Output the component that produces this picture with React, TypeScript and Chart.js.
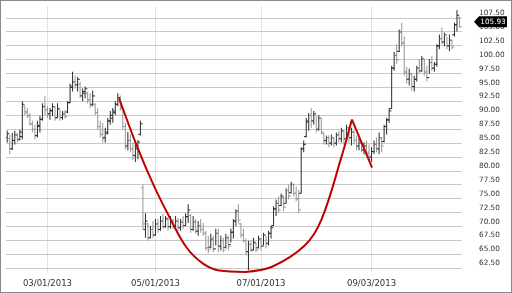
import React, { useEffect, useRef } from 'react';
import { Chart, registerables } from 'chart.js';
Chart.register(...registerables);

// Bar index 0 = first trading day shown (early Feb 2013)
const xTickIdx = [16, 59, 101, 145];
const xTickLabels = ['03/01/2013', '05/01/2013', '07/01/2013', '09/03/2013'];
const yTickValues = [62.5, 65, 67.5, 70, 72.5, 75, 77.5, 80, 82.5, 85, 87.5, 90, 92.5, 95, 97.5, 100, 102.5, 105, 107.5];

const highs = [
  87.26, 86.5, 86.9, 87.26, 86.9, 87.44, 92.55, 91.8, 91.32, 90.44,
  89.02, 88.32, 89.02, 89.91, 92.2, 93.44, 91.67, 91.32, 92.2, 91.67,
  92.2, 90.97, 90.79, 90.97, 92.55, 95.73, 97.85, 97.14, 96.9, 96.08,
  94.85, 95.2, 94.32, 93.97, 94.49, 92.2, 91.32, 89.02, 88.67, 87.79,
  89.55, 90.79, 91.32, 92.55, 93.97, 93.6, 91.32, 88.67, 87.0, 86.55,
  85.14, 85.5, 85.6, 89.02, 77.55, 72.43, 70.67, 70.14, 71.02, 71.37,
  71.37, 71.9, 72.26, 71.9, 71.55, 71.9, 71.37, 71.9, 71.55, 71.37,
  71.9, 72.43, 74.02, 72.26, 71.9, 71.37, 71.02, 71.37, 70.67, 69.26,
  68.38, 68.73, 68.38, 69.61, 69.61, 68.38, 68.02, 68.73, 68.38, 69.61,
  71.37, 73.14, 74.02, 70.67, 69.61, 67.85, 67.49, 67.49, 68.02, 67.14,
  68.38, 68.02, 68.9, 68.38, 69.26, 70.14, 73.67, 74.9, 75.43, 75.96,
  75.43, 76.9, 77.55, 78.08, 77.7, 77.2, 76.6, 84.26, 85.5, 89.55,
  90.44, 91.32, 90.79, 89.91, 90.08, 89.55, 86.91, 86.38, 86.38, 86.55,
  86.03, 86.91, 87.26, 87.79, 87.26, 88.32, 87.79, 87.79, 87.26, 86.38,
  86.03, 85.5, 85.14, 85.5, 84.79, 84.26, 85.5, 86.03, 86.91, 86.03,
  88.32, 89.55, 91.32, 98.91, 101.38, 102.79, 105.44, 106.67, 104.2, 98.73,
  98.38, 97.49, 97.14, 98.91, 100.14, 100.67, 100.14, 98.91, 100.14, 100.67,
  99.61, 102.79, 104.55, 105.79, 104.91, 104.2, 104.55, 103.67, 106.67, 108.96,
  107.73,
];

const lows = [
  85.14, 83.0, 83.8, 84.79, 85.14, 85.5, 85.67, 90.08, 89.55, 88.14,
  86.91, 85.67, 86.03, 86.91, 89.02, 90.08, 89.55, 89.2, 89.91, 89.02,
  89.55, 89.02, 89.2, 89.38, 90.44, 92.2, 94.32, 94.85, 94.32, 93.08,
  92.55, 93.08, 92.2, 91.32, 91.67, 90.08, 87.44, 86.03, 85.14, 85.14,
  86.55, 88.32, 88.67, 90.08, 91.67, 90.79, 87.44, 83.91, 83.73, 83.38,
  81.97, 81.61, 82.14, 86.38, 69.5, 68.02, 67.49, 67.85, 68.02, 68.38,
  68.9, 69.26, 69.61, 69.79, 69.26, 69.61, 69.61, 69.79, 69.26, 69.26,
  69.61, 70.14, 70.67, 68.9, 69.26, 68.73, 68.38, 68.9, 68.38, 65.73,
  65.2, 66.08, 65.38, 66.61, 65.38, 65.73, 65.38, 66.08, 65.73, 67.14,
  67.85, 70.14, 70.67, 68.02, 67.14, 64.85, 62.2, 65.38, 65.73, 65.38,
  66.08, 65.73, 66.61, 66.08, 66.61, 67.85, 70.14, 71.9, 72.43, 73.67,
  72.79, 74.2, 74.9, 75.96, 75.43, 74.55, 72.43, 75.96, 83.38, 86.03,
  87.26, 87.79, 88.32, 86.91, 87.26, 86.55, 84.79, 84.79, 84.26, 84.61,
  84.26, 84.61, 85.14, 85.14, 84.79, 85.5, 85.14, 84.61, 84.79, 83.73,
  83.73, 83.38, 83.02, 82.85, 81.97, 81.61, 83.02, 83.38, 83.02, 83.38,
  85.14, 86.55, 88.67, 91.14, 98.02, 99.26, 101.38, 102.44, 97.14, 95.73,
  95.38, 94.49, 94.32, 96.08, 97.49, 97.85, 97.14, 96.08, 97.49, 98.02,
  97.85, 98.73, 101.91, 102.79, 102.44, 101.91, 101.55, 101.91, 104.2, 105.08,
  105.79,
];

const opens = [
  86.0, 85.8, 84.0, 85.5, 86.4, 85.7, 86.2, 91.6, 90.6, 89.9,
  88.5, 87.5, 86.4, 88.0, 89.3, 91.5, 91.0, 90.3, 90.8, 91.5,
  89.6, 91.0, 89.6, 90.3, 90.6, 92.3, 95.0, 96.0, 95.5, 95.6,
  93.5, 94.0, 94.0, 92.8, 92.0, 92.0, 90.5, 88.0, 86.6, 86.0,
  86.8, 89.0, 89.5, 90.5, 92.0, 93.0, 91.2, 88.0, 84.5, 85.5,
  84.0, 82.8, 84.0, 86.6, 77.0, 69.5, 70.5, 68.0, 69.5, 68.5,
  70.5, 69.5, 71.0, 70.0, 71.2, 70.0, 71.0, 70.2, 71.0, 69.8,
  70.8, 70.2, 71.8, 72.0, 69.5, 70.8, 69.2, 70.2, 69.5, 68.8,
  66.2, 66.3, 67.8, 66.0, 68.8, 66.5, 67.5, 66.3, 68.0, 66.8,
  69.0, 71.0, 72.8, 70.5, 68.5, 67.5, 65.5, 66.8, 65.8, 67.0,
  66.2, 67.8, 66.5, 68.5, 67.0, 68.8, 70.2, 73.2, 74.2, 73.8,
  75.2, 74.2, 76.5, 76.1, 77.6, 76.0, 75.0, 76.0, 84.0, 86.2,
  88.8, 90.0, 89.0, 90.2, 87.5, 89.5, 86.8, 85.5, 86.0, 85.0,
  86.0, 85.0, 86.5, 85.8, 87.2, 85.8, 87.8, 86.0, 87.0, 85.5,
  84.5, 85.0, 83.8, 84.5, 83.2, 82.5, 83.5, 84.8, 84.0, 86.0,
  85.3, 88.0, 89.2, 91.2, 98.5, 100.8, 101.5, 105.0, 103.0, 97.8,
  96.5, 97.5, 95.2, 96.5, 98.5, 98.0, 100.2, 97.8, 96.8, 99.5,
  98.5, 99.2, 102.5, 103.8, 103.2, 104.5, 102.5, 103.5, 104.5, 106.3,
  107.6,
];

const closes = [
  86.7, 84.0, 85.5, 86.5, 85.6, 87.0, 92.0, 90.6, 90.0, 88.5,
  87.5, 86.3, 88.2, 89.3, 91.6, 91.0, 90.2, 90.9, 91.6, 89.5,
  91.2, 89.6, 90.3, 89.8, 92.3, 95.3, 96.0, 95.5, 96.5, 93.6,
  94.3, 94.8, 92.8, 91.8, 93.5, 90.5, 88.0, 86.6, 85.8, 87.0,
  89.0, 90.0, 90.8, 92.0, 93.2, 91.5, 88.0, 84.5, 85.5, 84.0,
  82.8, 84.5, 85.2, 88.5, 70.5, 71.0, 68.0, 69.5, 68.5, 70.5,
  69.5, 71.0, 70.0, 71.5, 70.0, 71.0, 70.2, 71.0, 69.8, 70.8,
  70.2, 71.8, 73.0, 69.5, 70.8, 69.2, 70.2, 69.5, 68.8, 66.2,
  65.8, 67.8, 66.0, 68.8, 66.5, 67.5, 65.8, 68.0, 66.5, 69.0,
  71.0, 72.8, 71.2, 68.5, 67.5, 65.5, 66.8, 65.8, 67.2, 65.8,
  67.8, 66.5, 68.5, 67.0, 68.8, 69.8, 73.2, 74.2, 73.0, 75.5,
  73.5, 76.5, 75.5, 77.6, 76.0, 75.0, 73.0, 84.0, 84.8, 89.0,
  90.0, 89.0, 90.3, 87.5, 89.5, 87.0, 85.5, 86.0, 85.0, 86.0,
  85.0, 86.5, 85.8, 87.2, 85.8, 87.8, 86.0, 87.0, 85.5, 84.5,
  85.0, 83.8, 84.5, 83.2, 82.5, 83.5, 84.8, 84.0, 86.0, 84.5,
  88.0, 89.2, 90.8, 98.5, 100.8, 100.0, 105.0, 103.0, 97.8, 96.5,
  97.5, 95.2, 96.5, 98.5, 98.0, 100.2, 97.8, 96.8, 99.5, 98.5,
  99.2, 102.5, 103.8, 103.2, 104.5, 102.5, 103.5, 102.3, 106.3, 108.0,
  105.93,
];

// Cup-and-handle annotation (bar index, price)
const cupX = [44.5, 51.3, 58.2, 64.7, 71.3, 77.8, 84.4, 94.6, 105.4, 118.4, 125.1, 133.0, 137.2];
const cupY = [93.08, 84.84, 77.5, 71.6, 66.3, 63.4, 62.1, 61.85, 62.8, 66.6, 71.3, 82.5, 89.25];
const handleX = [137.2, 145.2];
const handleY = [89.25, 80.6];

const UP = '#2a2a2a';
const DOWN = '#959595';
const RED = '#c00000';
const FONT = '"DejaVu Sans", Verdana, sans-serif';

const priceTag = {
  id: 'priceTag',
  afterDraw(chart: any) {
    const { ctx, chartArea, scales } = chart;
    const last = closes[closes.length - 1];
    const y = scales.y.getPixelForValue(last) - 5;
    const tip = chartArea.right + 12;
    const left = chartArea.right + 17;
    const right = chartArea.right + 45;
    const h = 5.5;
    ctx.save();
    ctx.fillStyle = '#000';
    ctx.beginPath();
    ctx.moveTo(tip, y);
    ctx.lineTo(left, y - h);
    ctx.lineTo(right, y - h);
    ctx.lineTo(right, y + h);
    ctx.lineTo(left, y + h);
    ctx.closePath();
    ctx.fill();
    ctx.fillStyle = '#fff';
    ctx.font = `7.3px ${FONT}`;
    ctx.textAlign = 'center';
    ctx.textBaseline = 'middle';
    ctx.fillText(last.toFixed(2), (left + right) / 2, y + 0.5);
    ctx.restore();
  },
};

export default function App() {
  const ref = useRef<HTMLCanvasElement>(null);
  useEffect(() => {
    const idx = highs.map((_, i) => i);
    const colors = idx.map((i) => (closes[i] >= opens[i] ? UP : DOWN));
    const chart = new Chart(ref.current as HTMLCanvasElement, {
      type: 'bar',
      data: {
        datasets: [
          {
            type: 'bar',
            data: idx.map((i) => ({ x: i, y: [lows[i], highs[i]] })) as any,
            backgroundColor: colors,
            borderWidth: 0,
            barThickness: 1,
            inflateAmount: 0,
            grouped: false,
            order: 3,
          } as any,
          {
            type: 'scatter',
            data: idx.map((i) => ({ x: i - 0.45, y: opens[i] })),
            showLine: false,
            pointStyle: 'line',
            pointRadius: 1.1,
            pointBorderWidth: 1,
            pointBorderColor: colors,
            pointBackgroundColor: colors,
            order: 2,
          } as any,
          {
            type: 'scatter',
            data: idx.map((i) => ({ x: i + 0.45, y: closes[i] })),
            showLine: false,
            pointStyle: 'line',
            pointRadius: 1.1,
            pointBorderWidth: 1,
            pointBorderColor: colors,
            pointBackgroundColor: colors,
            order: 2,
          } as any,
          {
            type: 'line',
            data: cupX.map((x, k) => ({ x, y: cupY[k] })),
            borderColor: RED,
            borderWidth: 2,
            pointRadius: 0,
            tension: 0.35,
            fill: false,
            clip: false,
            order: 1,
          } as any,
          {
            type: 'line',
            data: handleX.map((x, k) => ({ x, y: handleY[k] })),
            borderColor: RED,
            borderWidth: 2,
            pointRadius: 0,
            tension: 0,
            fill: false,
            clip: false,
            order: 1,
          } as any,
        ],
      },
      options: {
        responsive: false,
        animation: false,
        devicePixelRatio: 1,
        events: [],
        layout: { padding: 0 },
        plugins: { legend: { display: false }, tooltip: { enabled: false } },
        scales: {
          x: {
            type: 'linear',
            min: -0.5,
            max: 181,
            offset: false,
            afterBuildTicks: (ax: any) => {
              ax.ticks = xTickIdx.map((v) => ({ value: v }));
            },
            afterFit: (ax: any) => {
              ax.height = 20;
              ax.paddingLeft = 0;
              ax.paddingRight = 0;
            },
            ticks: {
              autoSkip: false,
              maxRotation: 0,
              minRotation: 0,
              padding: 7,
              color: '#333',
              font: { family: FONT, size: 8.5 },
              callback: (v: any) => {
                const k = xTickIdx.indexOf(Number(v));
                return k >= 0 ? xTickLabels[k] : '';
              },
            },
            grid: { color: '#e2e2e2', lineWidth: 1, drawTicks: false, offset: false },
            border: { display: false },
          },
          y: {
            type: 'linear',
            position: 'right',
            min: 61.85,
            max: 109.67,
            afterBuildTicks: (ax: any) => {
              ax.ticks = yTickValues.map((v) => ({ value: v }));
            },
            afterFit: (ax: any) => {
              ax.width = 49;
              ax.paddingTop = 0;
              ax.paddingBottom = 0;
            },
            ticks: {
              padding: 17,
              labelOffset: -5,
              color: '#333',
              font: { family: FONT, size: 7.3 },
              callback: (v: any) => Number(v).toFixed(2),
            },
            grid: { color: '#c8c8c8', lineWidth: 1, drawTicks: false, offset: false },
            border: { display: false },
          },
        },
      } as any,
      plugins: [priceTag],
    });
    return () => chart.destroy();
  }, []);

  return (
    <div
      style={{
        position: 'fixed',
        left: 0,
        top: 0,
        width: 512,
        height: 293,
        border: '1px solid #8a8a8a',
        boxSizing: 'border-box',
        background: '#fff',
      }}
    >
      <canvas ref={ref} width={510} height={291} style={{ display: 'block', width: 510, height: 291 }} />
    </div>
  );
}
